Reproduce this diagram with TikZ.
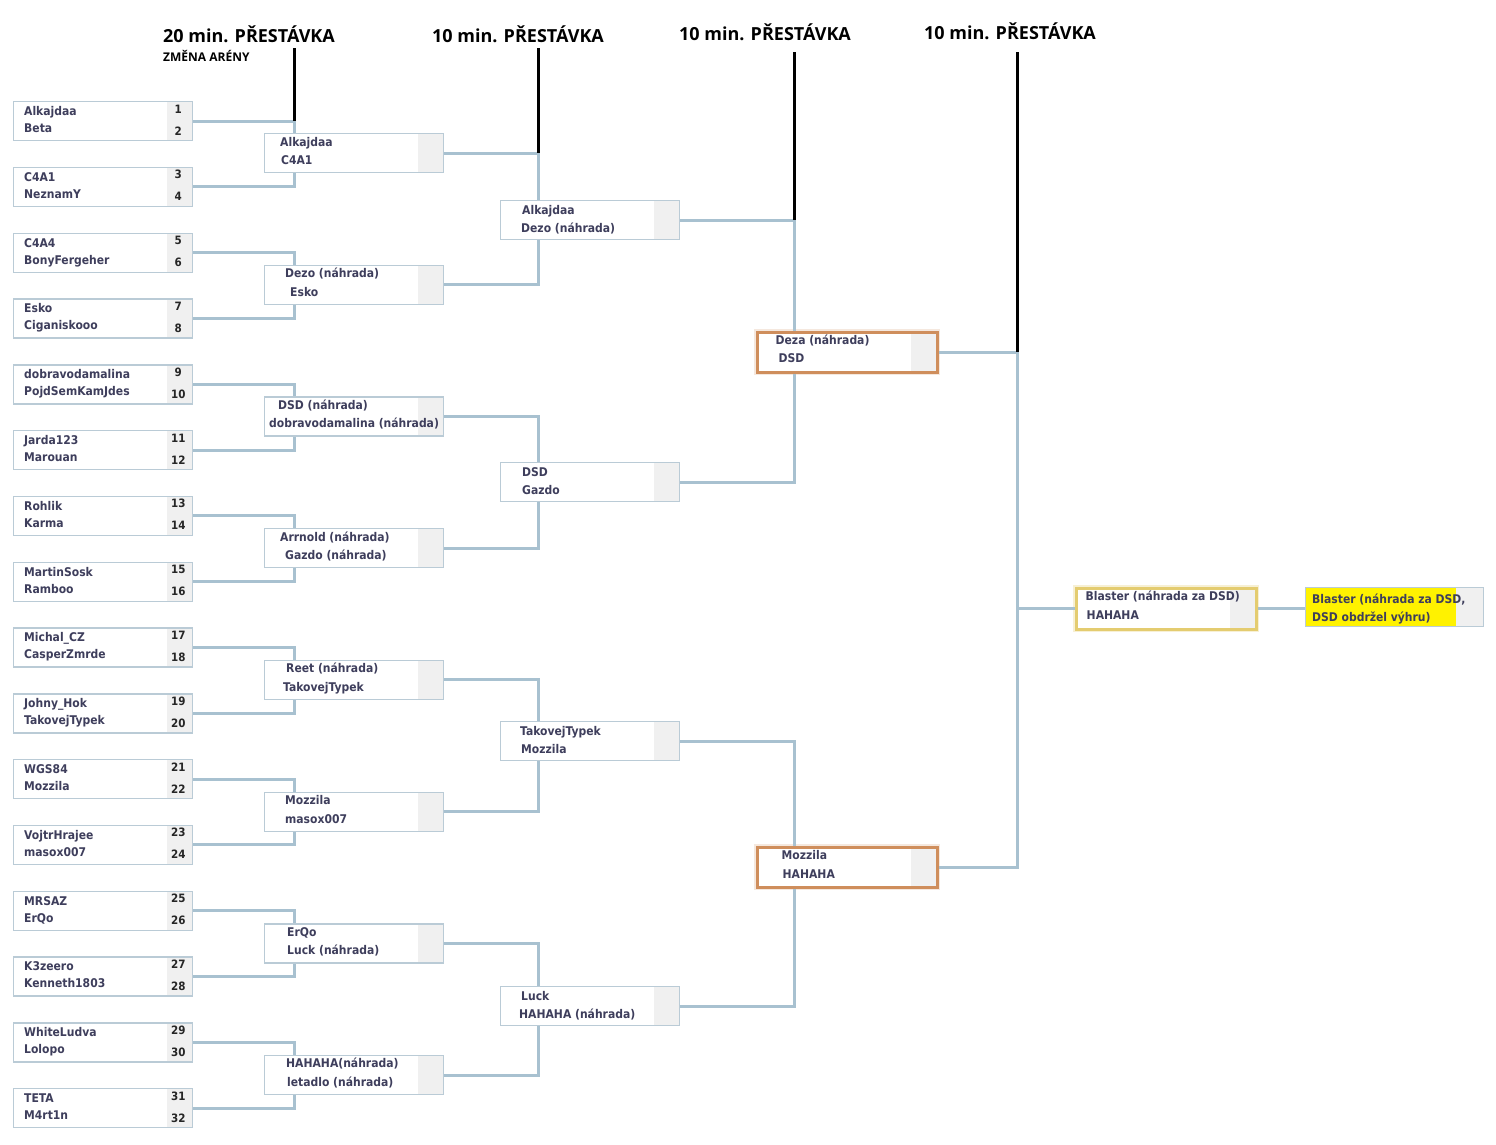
\documentclass[tikz,border=0pt]{standalone}
\usepackage{fontspec}
\setmainfont{DejaVu Sans Condensed}
\newfontfamily\headfont{Open Sans}
\usetikzlibrary{positioning}

\definecolor{linkblue}{RGB}{168,193,208}
\definecolor{boxedge}{RGB}{186,203,214}
\definecolor{cellgrey}{RGB}{240,240,240}
\definecolor{nametext}{RGB}{62,62,92}
\definecolor{semiorange}{RGB}{207,142,92}
\definecolor{finalgold}{RGB}{228,204,112}
\definecolor{winyellow}{RGB}{255,242,0}

\tikzset{
  matchbox/.style={draw=boxedge, line width=1.3pt, fill=white, inner sep=0pt,
    anchor=north west, minimum width=179pt, minimum height=39pt,
    path picture={\fill[cellgrey] ([xshift=-26pt]path picture bounding box.north east)
      rectangle (path picture bounding box.south east);}},
  semibox/.style={matchbox, draw=semiorange, line width=3.5pt,
    minimum width=180pt, minimum height=40pt,
    preaction={draw=semiorange!20, line width=6pt}},
  finalbox/.style={matchbox, draw=finalgold, line width=3pt,
    minimum width=180pt, minimum height=41pt,
    preaction={draw=finalgold!30, line width=6pt}},
  winbox/.style={matchbox, minimum width=178pt, minimum height=39pt,
    path picture={
      \fill[winyellow] (path picture bounding box.north west)
        rectangle ([xshift=-28pt]path picture bounding box.south east);
      \fill[cellgrey] ([xshift=-28pt]path picture bounding box.north east)
        rectangle (path picture bounding box.south east);}},
  player/.style={anchor=base west, inner sep=0pt, text=nametext,
    font=\bfseries\fontsize{12}{14}\selectfont},
  seednum/.style={anchor=base, inner sep=0pt, text=black!85,
    font=\bfseries\fontsize{11.5}{13}\selectfont},
  link/.style={draw=linkblue, line width=3pt},
  breakline/.style={draw=black, line width=3pt},
  breaktitle/.style={inner sep=0pt, font=\headfont\bfseries\fontsize{18}{20}\selectfont},
  breaksub/.style={inner sep=0pt, font=\headfont\bfseries\fontsize{12}{14}\selectfont},
}

\begin{document}
\begin{tikzpicture}[x=1pt,y=-1pt]
\useasboundingbox (0,0) rectangle (1496,1144);

% headings of the breaks
\node[breaktitle] (brk1) at (249,34) {20 min. PŘESTÁVKA};
\node[breaksub, anchor=west] (brk1sub) at (163,56) {ZMĚNA ARÉNY};
\node[breaktitle] (brk2) at (518,34) {10 min. PŘESTÁVKA};
\node[breaktitle] (brk3) at (765,32) {10 min. PŘESTÁVKA};
\node[breaktitle] (brk4) at (1010,31) {10 min. PŘESTÁVKA};
\coordinate (cut1) at (294,48);
\coordinate (cut2) at (538,48);
\coordinate (cut3) at (794,52);
\coordinate (cut4) at (1017,52);

% round 1
\foreach \ta/\tb [count=\n] in {Alkajdaa/Beta, C4A1/NeznamY, C4A4/BonyFergeher,
    Esko/Ciganiskooo, dobravodamalina/PojdSemKamJdes, Jarda123/Marouan,
    Rohlik/Karma, MartinSosk/Ramboo, Michal\_CZ/CasperZmrde,
    Johny\_Hok/TakovejTypek, WGS84/Mozzila, VojtrHrajee/masox007,
    MRSAZ/ErQo, K3zeero/Kenneth1803, WhiteLudva/Lolopo, TETA/M4rt1n}{
  \pgfmathsetmacro\ya{101+(\n-1)*65.8}
  \pgfmathtruncatemacro\sa{2*\n-1}
  \pgfmathtruncatemacro\sb{2*\n}
  \node[matchbox] (ra\n) at (13,\ya) {};
  \node[player] at ([xshift=11pt,yshift=-14.5pt]ra\n.north west) {\ta};
  \node[player] at ([xshift=11pt,yshift=-31.5pt]ra\n.north west) {\tb};
  \node[seednum] at ([xshift=-15pt,yshift=-12pt]ra\n.north east) {\sa};
  \node[seednum] at ([xshift=-15pt,yshift=-34pt]ra\n.north east) {\sb};
}

% round 2
\foreach \ta/\xa/\tb/\xb [count=\n] in {Alkajdaa/16/C4A1/17,
    Dezo (náhrada)/21/Esko/26, DSD (náhrada)/14/dobravodamalina (náhrada)/5,
    Arrnold (náhrada)/16/Gazdo (náhrada)/21, Reet (náhrada)/22/TakovejTypek/19,
    Mozzila/21/masox007/21, ErQo/23/Luck (náhrada)/23,
    HAHAHA(náhrada)/22/letadlo (náhrada)/23}{
  \pgfmathsetmacro\ya{133+(\n-1)*131.7}
  \node[matchbox] (rb\n) at (264,\ya) {};
  \node[player] at ([xshift=\xa pt,yshift=-13pt]rb\n.north west) {\ta};
  \node[player] at ([xshift=\xb pt,yshift=-31.5pt]rb\n.north west) {\tb};
}

% round 3
\foreach \ya/\ta/\xa/\tb/\xb [count=\n] in {200/Alkajdaa/22/Dezo (náhrada)/21,
    462/DSD/22/Gazdo/22, 721/TakovejTypek/20/Mozzila/21,
    986/Luck/21/HAHAHA (náhrada)/19}{
  \node[matchbox] (rc\n) at (500,\ya) {};
  \node[player] at ([xshift=\xa pt,yshift=-14pt]rc\n.north west) {\ta};
  \node[player] at ([xshift=\xb pt,yshift=-32pt]rc\n.north west) {\tb};
}

% semifinals and final
\node[semibox] (rd1) at (755.5,330.5) {};
\node[player] at ([xshift=20pt,yshift=-14pt]rd1.north west) {Deza (náhrada)};
\node[player] at ([xshift=23pt,yshift=-31.5pt]rd1.north west) {DSD};
\node[semibox] (rd2) at (755.5,845.5) {};
\node[player] at ([xshift=26pt,yshift=-13.5pt]rd2.north west) {Mozzila};
\node[player] at ([xshift=27pt,yshift=-32.5pt]rd2.north west) {HAHAHA};
\node[finalbox] (fin) at (1074.5,586.5) {};
\node[player] at ([xshift=11pt,yshift=-13.5pt]fin.north west) {Blaster (náhrada za DSD)};
\node[player] at ([xshift=12pt,yshift=-32.5pt]fin.north west) {HAHAHA};
\node[winbox] (win) at (1305,587) {};
\node[player] at ([xshift=7pt,yshift=-16pt]win.north west) {Blaster (náhrada za DSD,};
\node[player] at ([xshift=7pt,yshift=-34pt]win.north west) {DSD obdržel výhru)};

% connectors
\foreach \j in {1,...,8}{
  \pgfmathtruncatemacro\up{2*\j-1}
  \pgfmathtruncatemacro\dn{2*\j}
  \draw[link] (ra\up.east) -| ([xshift=30pt]rb\j.north west);
  \draw[link] (ra\dn.east) -| ([xshift=30pt]rb\j.south west);
}
\foreach \j in {1,...,4}{
  \pgfmathtruncatemacro\up{2*\j-1}
  \pgfmathtruncatemacro\dn{2*\j}
  \draw[link] (rb\up.east) -| ([xshift=38pt]rc\j.north west);
  \draw[link] (rb\dn.east) -| ([xshift=38pt]rc\j.south west);
}
\draw[link] (rc1.east) -| ([xshift=38.5pt]rd1.north west);
\draw[link] (rc2.east) -| ([xshift=38.5pt]rd1.south west);
\draw[link] (rc3.east) -| ([xshift=38.5pt]rd2.north west);
\draw[link] (rc4.east) -| ([xshift=38.5pt]rd2.south west);
\coordinate (hub) at (cut4 |- fin.west);
\draw[link] (rd1.east) -| (hub);
\draw[link] (rd2.east) -| (hub);
\draw[link] (hub) -- (fin.west);
\draw[link] (fin.east) -- (fin.east -| win.west);

% break markers
\draw[breakline] (cut1) -- (cut1 |- ra1.east);
\draw[breakline] (cut2) -- (cut2 |- rb1.east);
\draw[breakline] (cut3) -- (cut3 |- rc1.east);
\draw[breakline] (cut4) -- (cut4 |- rd1.east);
\end{tikzpicture}
\end{document}
